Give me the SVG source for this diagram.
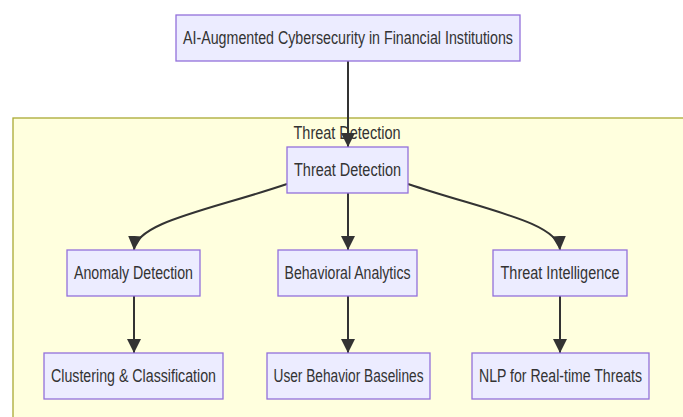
<svg xmlns="http://www.w3.org/2000/svg" width="683" height="417" viewBox="0 0 683 417">
<defs>
<style>
.node rect{fill:#ECECFF;stroke:#9370DB;stroke-width:1.3}
.lbl{font-family:"Liberation Sans",Arial,sans-serif;font-size:17.5px;fill:#333;text-anchor:middle;dominant-baseline:central}
.edge{fill:none;stroke:#333;stroke-width:2}
</style>
<marker id="arr" viewBox="0 0 10 10" refX="10" refY="5" markerWidth="7" markerHeight="7" markerUnits="strokeWidth" orient="auto">
<path d="M0,0 L10,5 L0,10 z" fill="#333"/>
</marker>
</defs>
<rect width="683" height="417" fill="#ffffff"/>
<g id="cluster-threat">
<rect x="13" y="118" width="700" height="320" fill="#ffffde" stroke="#aaaa33" stroke-width="1.3"/>
<text class="lbl" x="347" y="133" textLength="107" lengthAdjust="spacingAndGlyphs">Threat Detection</text>
</g>
<g id="connectors">
<path class="edge" d="M348,61 L348,147" marker-end="url(#arr)"/>
<path class="edge" d="M348,193 L348,250" marker-end="url(#arr)"/>
<path class="edge" d="M287,184 C210,210 136,222 134,250" marker-end="url(#arr)"/>
<path class="edge" d="M408,184 C485,210 558,222 560,250" marker-end="url(#arr)"/>
<path class="edge" d="M134,296 L134,353" marker-end="url(#arr)"/>
<path class="edge" d="M348,296 L348,353" marker-end="url(#arr)"/>
<path class="edge" d="M560,296 L560,353" marker-end="url(#arr)"/>
</g>
<g id="n-root" class="node">
<rect x="176" y="15" width="344" height="46"/>
<text class="lbl" x="348" y="38" textLength="330" lengthAdjust="spacingAndGlyphs">AI-Augmented Cybersecurity in Financial Institutions</text>
</g>
<g id="n-td" class="node">
<rect x="287" y="147" width="121" height="46"/>
<text class="lbl" x="347.5" y="170" textLength="107" lengthAdjust="spacingAndGlyphs">Threat Detection</text>
</g>
<g id="n-ad" class="node">
<rect x="67" y="250" width="133" height="46"/>
<text class="lbl" x="133.5" y="273" textLength="119" lengthAdjust="spacingAndGlyphs">Anomaly Detection</text>
</g>
<g id="n-ba" class="node">
<rect x="278" y="250" width="139" height="46"/>
<text class="lbl" x="347.5" y="273" textLength="126" lengthAdjust="spacingAndGlyphs">Behavioral Analytics</text>
</g>
<g id="n-ti" class="node">
<rect x="493" y="250" width="134" height="46"/>
<text class="lbl" x="560" y="273" textLength="119" lengthAdjust="spacingAndGlyphs">Threat Intelligence</text>
</g>
<g id="n-cc" class="node">
<rect x="44" y="353" width="179" height="46"/>
<text class="lbl" x="133.5" y="376" textLength="165" lengthAdjust="spacingAndGlyphs">Clustering &amp; Classification</text>
</g>
<g id="n-ub" class="node">
<rect x="267" y="353" width="163" height="46"/>
<text class="lbl" x="348.5" y="376" textLength="150" lengthAdjust="spacingAndGlyphs">User Behavior Baselines</text>
</g>
<g id="n-nlp" class="node">
<rect x="472" y="353" width="177" height="46"/>
<text class="lbl" x="560.5" y="376" textLength="163" lengthAdjust="spacingAndGlyphs">NLP for Real-time Threats</text>
</g>
</svg>
